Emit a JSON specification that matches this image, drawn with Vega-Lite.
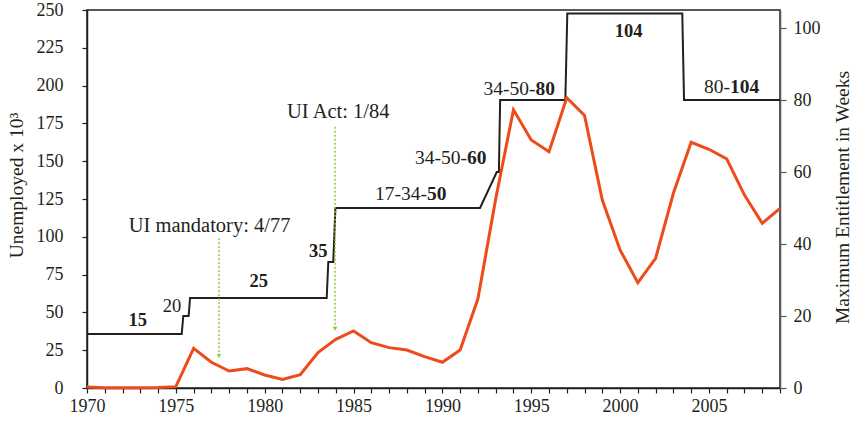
{
  "$schema": "https://vega.github.io/schema/vega-lite/v6.json",
  "width": 693,
  "height": 378,
  "autosize": {"type": "none"},
  "padding": {"left": 87, "top": 10, "right": 74, "bottom": 34},
  "config": {
    "font": "Liberation Serif",
    "view": {"stroke": "#231f20", "strokeWidth": 1.5},
    "axis": {
      "labelFont": "Liberation Serif",
      "titleFont": "Liberation Serif",
      "labelColor": "#231f20",
      "titleColor": "#231f20",
      "titleFontWeight": "normal",
      "labelFontSize": 18,
      "titleFontSize": 19.5,
      "grid": false,
      "labelOverlap": false,
      "domainColor": "#231f20",
      "domainWidth": 1.5,
      "tickColor": "#231f20",
      "tickWidth": 1.2
    },
    "text": {"font": "Liberation Serif", "fontSize": 19, "color": "#231f20", "baseline": "alphabetic"}
  },
  "datasets": {
    "unemp": [
      {"year": 1970, "value": 0.6}, {"year": 1971, "value": 0.2}, {"year": 1972, "value": 0.2},
      {"year": 1973, "value": 0.2}, {"year": 1974, "value": 0.3}, {"year": 1975, "value": 0.9},
      {"year": 1976, "value": 26.2}, {"year": 1977, "value": 17}, {"year": 1978, "value": 11.2},
      {"year": 1979, "value": 12.8}, {"year": 1980, "value": 8.6}, {"year": 1981, "value": 5.7},
      {"year": 1982, "value": 8.8}, {"year": 1983, "value": 23.4}, {"year": 1984, "value": 32.2},
      {"year": 1985, "value": 37.7}, {"year": 1986, "value": 30}, {"year": 1987, "value": 26.7},
      {"year": 1988, "value": 25.1}, {"year": 1989, "value": 20.7}, {"year": 1990, "value": 17},
      {"year": 1991, "value": 25.1}, {"year": 1992, "value": 59}, {"year": 1993, "value": 125},
      {"year": 1994, "value": 184}, {"year": 1995, "value": 164}, {"year": 1996, "value": 156.3},
      {"year": 1997, "value": 192}, {"year": 1998, "value": 180.3}, {"year": 1999, "value": 124.3},
      {"year": 2000, "value": 91.3}, {"year": 2001, "value": 69.7}, {"year": 2002, "value": 85.8},
      {"year": 2003, "value": 128.8}, {"year": 2004, "value": 162.5}, {"year": 2005, "value": 157.9},
      {"year": 2006, "value": 151.5}, {"year": 2007, "value": 127.6}, {"year": 2008, "value": 108.9},
      {"year": 2009, "value": 118.8}
    ],
    "weeks": [
      {"year": 1970, "weeks": 15}, {"year": 1975.33, "weeks": 15}, {"year": 1975.42, "weeks": 20},
      {"year": 1975.72, "weeks": 20}, {"year": 1975.8, "weeks": 25}, {"year": 1983.49, "weeks": 25},
      {"year": 1983.58, "weeks": 35}, {"year": 1983.86, "weeks": 35}, {"year": 1983.98, "weeks": 50},
      {"year": 1992.12, "weeks": 50}, {"year": 1993.06, "weeks": 60}, {"year": 1993.18, "weeks": 60},
      {"year": 1993.25, "weeks": 80}, {"year": 1996.92, "weeks": 80}, {"year": 1997.03, "weeks": 104},
      {"year": 2003.5, "weeks": 104}, {"year": 2003.6, "weeks": 80}, {"year": 2009, "weeks": 80}
    ],
    "arrows": [
      {"year": 1977.43, "value": 99, "bottom": 21},
      {"year": 1983.96, "value": 172.8, "bottom": 39.5}
    ],
    "heads": [
      {"year": 1977.43, "value": 21.2},
      {"year": 1983.96, "value": 39.2}
    ],
    "notes": [
      {"year": 1976.9, "value": 103.4, "text": "UI mandatory: 4/77"},
      {"year": 1984.14, "value": 178.4, "text": "UI Act: 1/84"}
    ],
    "labels_plain": [
      {"year": 1974.79, "weeks": 21.25, "text": "20"}
    ],
    "labels_bold": [
      {"year": 1972.85, "weeks": 17.1, "text": "15"},
      {"year": 1979.67, "weeks": 28.05, "text": "25"},
      {"year": 1983.02, "weeks": 36.5, "text": "35"},
      {"year": 2000.48, "weeks": 97.6, "text": "104"}
    ],
    "labels_prefix": [
      {"year": 1989.13, "weeks": 52.1, "text": "17-34-"},
      {"year": 1991.38, "weeks": 62.2, "text": "34-50-"},
      {"year": 1995.24, "weeks": 81.4, "text": "34-50-"},
      {"year": 2006.18, "weeks": 81.9, "text": "80-"}
    ],
    "labels_suffix": [
      {"year": 1989.13, "weeks": 52.1, "text": "50"},
      {"year": 1991.38, "weeks": 62.2, "text": "60"},
      {"year": 1995.24, "weeks": 81.4, "text": "80"},
      {"year": 2006.18, "weeks": 81.9, "text": "104"}
    ]
  },
  "encoding": {
    "x": {
      "field": "year",
      "type": "quantitative",
      "scale": {"domain": [1970, 2009], "nice": false, "zero": false},
      "axis": {
        "title": null,
        "values": [1970,1971,1972,1973,1974,1975,1976,1977,1978,1979,1980,1981,1982,1983,1984,1985,1986,1987,1988,1989,1990,1991,1992,1993,1994,1995,1996,1997,1998,1999,2000,2001,2002,2003,2004,2005,2006,2007,2008,2009],
        "format": "d",
        "labelExpr": "datum.value % 5 === 0 ? datum.label : ''",
        "tickSize": 5,
        "labelPadding": 4,
        "labelFlush": false,
        "labelOverlap": false
      }
    }
  },
  "layer": [
    {
      "encoding": {
        "y": {
          "field": "weeks",
          "type": "quantitative",
          "scale": {"domain": [0, 105], "nice": false},
          "axis": {
            "orient": "right",
            "title": "Maximum Entitlement in Weeks",
            "values": [0, 20, 40, 60, 80, 100],
            "tickSize": 6,
            "labelPadding": 7,
            "labelOverlap": false,
            "domainColor": "#58595b",
            "tickColor": "#58595b",
            "titleAngle": 270,
            "titleBaseline": "bottom",
            "titleX": 72,
            "titleY": 187,
            "titleAlign": "center"
          }
        }
      },
      "layer": [
        {
          "data": {"name": "weeks"},
          "mark": {"type": "line", "color": "#231f20", "strokeWidth": 2}
        },
        {
          "data": {"name": "labels_plain"},
          "mark": {"type": "text", "align": "center", "fontSize": 18.5},
          "encoding": {"text": {"field": "text"}}
        },
        {
          "data": {"name": "labels_bold"},
          "mark": {"type": "text", "align": "center", "fontWeight": "bold", "fontSize": 18.5},
          "encoding": {"text": {"field": "text"}}
        },
        {
          "data": {"name": "labels_prefix"},
          "mark": {"type": "text", "align": "right", "fontSize": 19.5},
          "encoding": {"text": {"field": "text"}}
        },
        {
          "data": {"name": "labels_suffix"},
          "mark": {"type": "text", "align": "left", "fontWeight": "bold", "fontSize": 19.5},
          "encoding": {"text": {"field": "text"}}
        }
      ]
    },
    {
      "encoding": {
        "y": {
          "field": "value",
          "type": "quantitative",
          "scale": {"domain": [0, 250], "nice": false},
          "axis": {
            "orient": "left",
            "title": "Unemployed x 10³",
            "values": [0, 25, 50, 75, 100, 125, 150, 175, 200, 225, 250],
            "labelOverlap": false,
            "tickSize": 5,
            "labelPadding": 19,
            "titleX": -61,
            "titleY": 175,
            "titleAlign": "center",
            "titleBaseline": "bottom"
          }
        }
      },
      "layer": [
        {
          "data": {"name": "unemp"},
          "mark": {"type": "line", "color": "#ee4b1c", "strokeWidth": 3}
        },
        {
          "data": {"name": "arrows"},
          "mark": {"type": "rule", "color": "#8cc63f", "strokeWidth": 1.5, "strokeDash": [2, 2]},
          "encoding": {"y2": {"field": "bottom"}}
        },
        {
          "data": {"name": "heads"},
          "mark": {"type": "point", "shape": "triangle-down", "filled": true, "color": "#8cc63f", "size": 20, "opacity": 1}
        },
        {
          "data": {"name": "notes"},
          "mark": {"type": "text", "align": "center", "fontSize": 20.5},
          "encoding": {"text": {"field": "text"}}
        }
      ]
    }
  ],
  "resolve": {"scale": {"y": "independent"}, "axis": {"y": "independent"}}
}
